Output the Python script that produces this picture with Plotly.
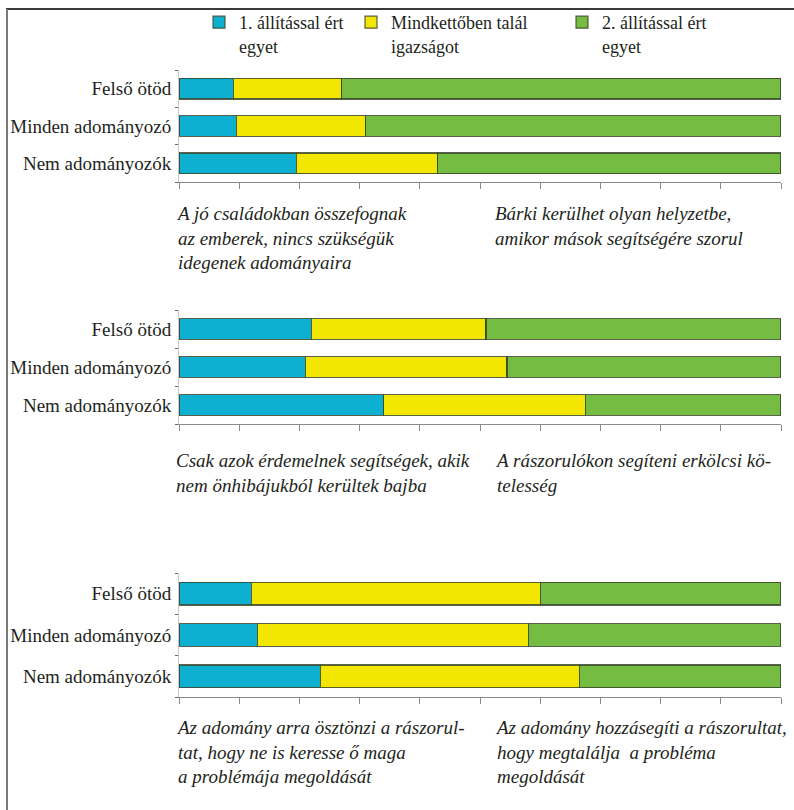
import plotly.graph_objects as go

# Respondent groups (top to bottom in each panel)
groups = ["Felső ötöd", "Minden adományozó", "Nem adományozók"]

series_names = ["1. állítással ért<br>egyet", "Mindkettőben talál<br>igazságot", "2. állítással ért<br>egyet"]
series_colors = ["#0db0d0", "#f3e600", "#74bd42"]

# Shares (%) per panel: agree with statement 1 / both / statement 2
p1_first = [9.0, 9.5, 19.5]
p1_both = [18.0, 21.5, 23.5]
p1_second = [73.0, 69.0, 57.0]

p2_first = [22.0, 21.0, 34.0]
p2_both = [29.0, 33.5, 33.5]
p2_second = [49.0, 45.5, 32.5]

p3_first = [12.0, 13.0, 23.5]
p3_both = [48.0, 45.0, 43.0]
p3_second = [40.0, 42.0, 33.5]

panels = [
    (p1_first, p1_both, p1_second),
    (p2_first, p2_both, p2_second),
    (p3_first, p3_both, p3_second),
]

# Statement texts shown under each panel (left = statement 1, right = statement 2)
statements_left = [
    "A jó családokban összefognak<br>az emberek, nincs szükségük<br>idegenek adományaira",
    "Csak azok érdemelnek segítségek, akik<br>nem önhibájukból kerültek bajba",
    "Az adomány arra ösztönzi a rászorul-<br>tat, hogy ne is keresse ő maga<br>a problémája megoldását",
]
statements_right = [
    "Bárki kerülhet olyan helyzetbe,<br>amikor mások segítségére szorul",
    "A rászorulókon segíteni erkölcsi kö-<br>telesség",
    "Az adomány hozzásegíti a rászorultat,<br>hogy megtalálja  a probléma<br>megoldását",
]

W, H = 794, 810
SERIF = "Times New Roman"
TEXT = "#231f20"
AXIS = "#8a8a8a"


def py(pix):
    """Pixel row (from top) to paper y."""
    return 1 - pix / H


def italic(s):
    return "<br>".join("<i>" + part + "</i>" for part in s.split("<br>"))


x_dom = [179 / W, 781 / W]
y_doms = [(70, 182), (310, 424), (573, 697)]
note_tops = [201, 448, 715]
legend_ids = ["legend", "legend2", "legend3"]

fig = go.Figure()

for i, values in enumerate(panels):
    sx = "" if i == 0 else str(i + 1)
    for k, vals in enumerate(values):
        fig.add_trace(go.Bar(
            x=vals, y=groups, orientation="h",
            name=series_names[k],
            marker=dict(color=series_colors[k],
                        line=dict(color="rgba(60,70,45,0.85)", width=1.2)),
            xaxis="x" + sx, yaxis="y" + sx,
            showlegend=(i == 0),
            legend=legend_ids[k],
            hoverinfo="skip",
        ))

    top, bottom = y_doms[i]
    fig.update_layout(**{
        "xaxis" + sx: dict(
            domain=x_dom, range=[0, 100], anchor="y" + sx,
            showgrid=False, zeroline=False, showticklabels=False,
            showline=True, linecolor=AXIS, linewidth=1,
            ticks="outside", tickvals=list(range(0, 101, 10)),
            ticklen=6, tickcolor=AXIS, tickwidth=1,
            fixedrange=True,
        ),
        "yaxis" + sx: dict(
            domain=[py(bottom), py(top)], anchor="x" + sx,
            type="category", categoryorder="array",
            categoryarray=groups[::-1],
            showgrid=False, zeroline=False,
            showline=True, linecolor="#c8c8c8", linewidth=1,
            ticks="outside", tickson="boundaries", ticklen=3,
            tickcolor="#666666", tickwidth=1,
            ticklabelstandoff=3,
            tickfont=dict(family=SERIF, size=19, color=TEXT),
            fixedrange=True,
        ),
    })

    fig.add_annotation(
        x=174 / W, y=py(note_tops[i]), xref="paper", yref="paper",
        xanchor="left", yanchor="top", align="left", showarrow=False,
        text=italic(statements_left[i]),
        font=dict(family=SERIF, size=19, color=TEXT),
    )
    fig.add_annotation(
        x=493 / W, y=py(note_tops[i]), xref="paper", yref="paper",
        xanchor="left", yanchor="top", align="left", showarrow=False,
        text=italic(statements_right[i]),
        font=dict(family=SERIF, size=19, color=TEXT),
    )

legend_x = [199, 351, 562]
for lid, lx in zip(legend_ids, legend_x):
    fig.update_layout(**{lid: dict(
        x=lx / W, y=py(4), xanchor="left", yanchor="top",
        orientation="h", valign="top",
        font=dict(family=SERIF, size=18, color=TEXT),
        bgcolor="rgba(0,0,0,0)",
    )})

# Page frame: top and left rules
fig.add_shape(type="line", xref="paper", yref="paper",
              x0=6 / W, x1=1, y0=py(9), y1=py(9),
              line=dict(color="#3a3a3a", width=2))
fig.add_shape(type="line", xref="paper", yref="paper",
              x0=7 / W, x1=7 / W, y0=0, y1=py(9),
              line=dict(color="#7a7a7a", width=2))

fig.update_layout(
    width=W, height=H,
    margin=dict(l=0, r=0, t=0, b=0),
    barmode="stack", bargap=0.45,
    paper_bgcolor="white", plot_bgcolor="white",
    font=dict(family=SERIF, size=19, color=TEXT),
)

fig.write_html("out.html")
